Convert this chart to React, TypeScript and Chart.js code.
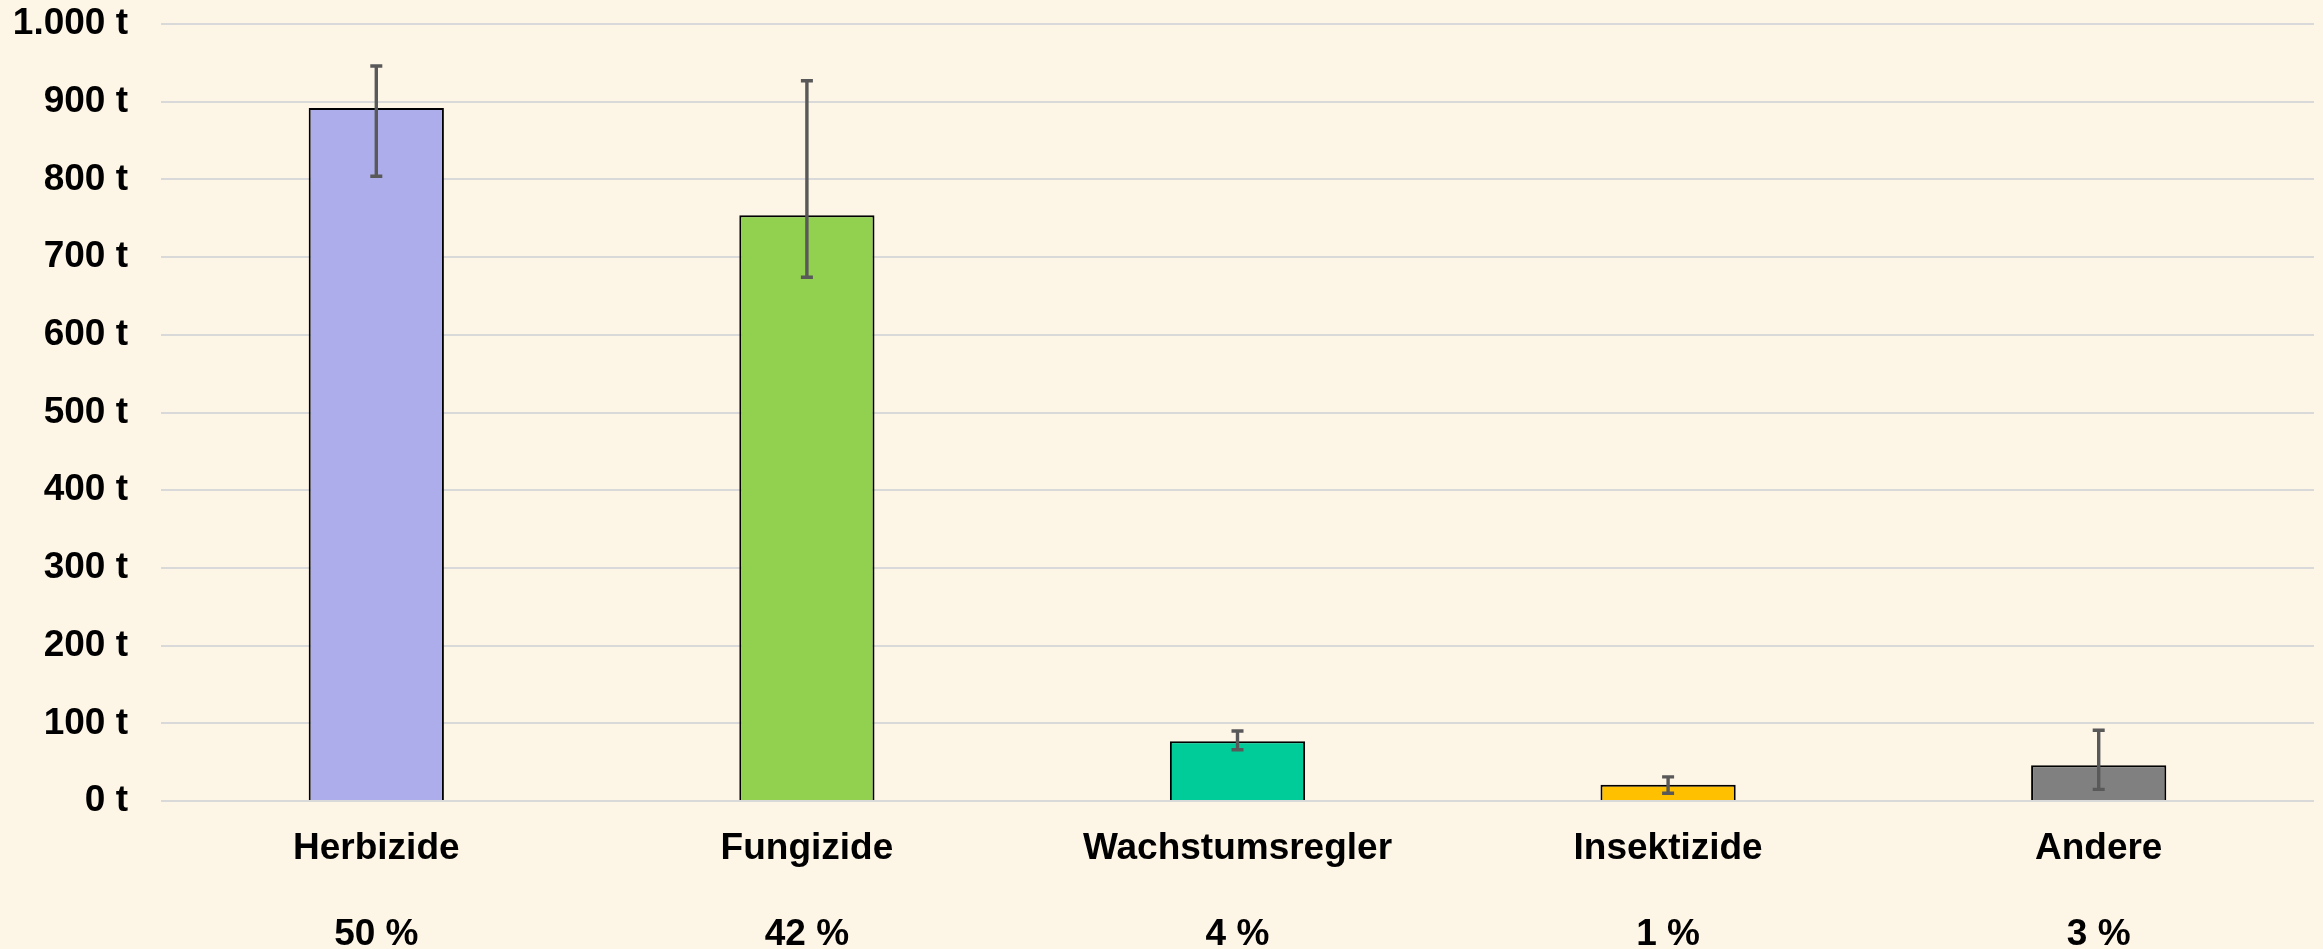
import React, { useEffect, useRef } from "react";
import { Chart, registerables } from "chart.js";

Chart.register(...registerables);

const categories = ["Herbizide", "Fungizide", "Wachstumsregler", "Insektizide", "Andere"];
const shares = ["50 %", "42 %", "4 %", "1 %", "3 %"];
const values = [892, 754, 77, 21, 46];
const errLow = [804, 674, 66, 10, 15];
const errHigh = [946, 927, 90, 31, 91];
const barColors = ["#ADADEB", "#92D050", "#00CC99", "#FFC000", "#808080"];

const FONT = "'Liberation Sans', Arial, sans-serif";

const fmt = (v: number) => {
  const s = String(Math.round(v));
  const t = s.length > 3 ? s.slice(0, s.length - 3) + "." + s.slice(s.length - 3) : s;
  return t + " t";
};

const errorBarPlugin = {
  id: "errorBars",
  afterDatasetsDraw(chart: any) {
    const meta = chart.getDatasetMeta(0);
    const y = chart.scales.y;
    const ctx = chart.ctx;
    ctx.save();
    ctx.strokeStyle = "#595959";
    ctx.lineWidth = 3.4;
    ctx.lineCap = "butt";
    meta.data.forEach((bar: any, i: number) => {
      const x = bar.x;
      const yh = y.getPixelForValue(errHigh[i]);
      const yl = y.getPixelForValue(errLow[i]);
      ctx.beginPath();
      ctx.moveTo(x, yh);
      ctx.lineTo(x, yl);
      ctx.moveTo(x - 6, yh);
      ctx.lineTo(x + 6, yh);
      ctx.moveTo(x - 6, yl);
      ctx.lineTo(x + 6, yl);
      ctx.stroke();
    });
    ctx.restore();
  },
};

export default function App() {
  const ref = useRef<HTMLCanvasElement | null>(null);
  useEffect(() => {
    if (!ref.current) return;
    const chart = new Chart(ref.current, {
      type: "bar",
      data: {
        labels: categories.map((c, i) => [c, "", shares[i]]),
        datasets: [
          {
            data: values,
            backgroundColor: barColors,
            borderColor: "#000000",
            borderWidth: 2,
            barPercentage: 0.314,
            categoryPercentage: 1,
          },
        ],
      },
      options: {
        animation: false,
        responsive: true,
        maintainAspectRatio: false,
        layout: { padding: { top: 24, right: 9, left: 0, bottom: 0 } },
        plugins: { legend: { display: false }, tooltip: { enabled: false } },
        scales: {
          x: {
            grid: { display: false, drawTicks: false },
            border: { display: false },
            ticks: {
              color: "#000000",
              font: { family: FONT, size: 37, weight: "bold", lineHeight: 1.15 },
              padding: 27,
              maxRotation: 0,
              autoSkip: false,
            },
            afterFit: (s: any) => {
              s.height = 148;
            },
          },
          y: {
            min: 0,
            max: 1000,
            grid: { color: "#D9D9D9", lineWidth: 2, drawTicks: false },
            border: { display: false },
            ticks: {
              stepSize: 100,
              color: "#000000",
              font: { family: FONT, size: 37, weight: "bold" },
              padding: 33,
              callback: (v: any) => fmt(Number(v)),
            },
            afterFit: (s: any) => {
              s.width = 161;
              s.paddingTop = 0;
              s.paddingBottom = 0;
            },
          },
        },
      },
      plugins: [errorBarPlugin],
    });
    return () => chart.destroy();
  }, []);
  return (
    <div
      style={{
        position: "fixed",
        left: 0,
        top: 0,
        width: 2323,
        height: 949,
        background: "#FDF5E6",
      }}
    >
      <canvas ref={ref} />
    </div>
  );
}
